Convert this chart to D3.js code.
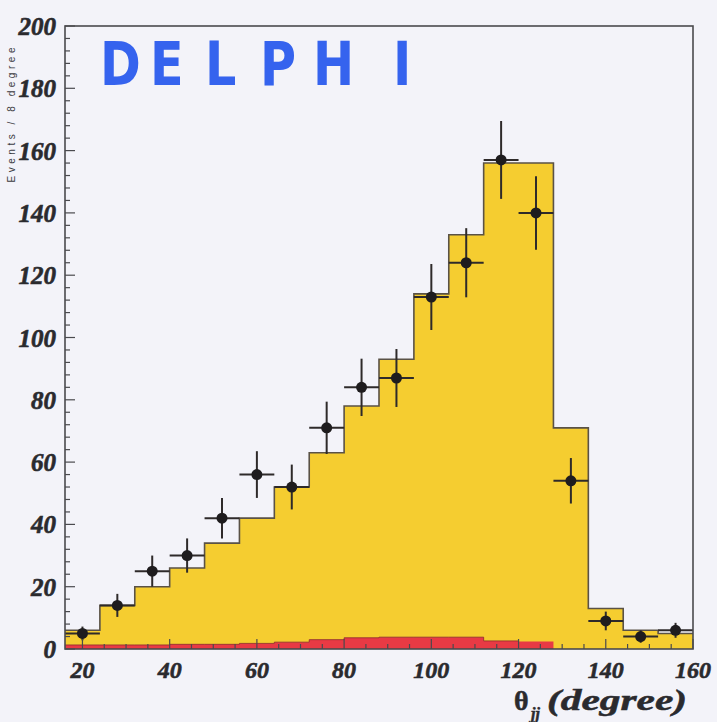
<!DOCTYPE html>
<html>
<head>
<meta charset="utf-8">
<script src="https://cdn.jsdelivr.net/npm/d3@7/dist/d3.min.js"></script>
<style>
  html, body { margin: 0; padding: 0; background: #f3f3f9; }
  svg { display: block; }
</style>
</head>
<body>
<script>
// Angle between the two jets, 8-degree bins from 16 to 160 degrees
const binEdges = [16, 24, 32, 40, 48, 56, 64, 72, 80, 88, 96, 104, 112, 120, 128, 136, 144, 152, 160];
// Simulated signal + background (yellow histogram)
const mcTotal = [6, 14, 20, 26, 34, 42, 52, 63, 78, 93, 114, 133, 156, 156, 71, 13, 6, 5];
// Background contribution (red histogram)
const mcBackground = [1.3, 1.3, 1.3, 1.5, 1.5, 1.8, 2.2, 3, 3.6, 3.8, 3.8, 3.8, 2.6, 2.4, 0, 0, 0, 0];
// Measured events with statistical errors
const dataCounts = [5, 14, 25, 30, 42, 56, 52, 71, 84, 87, 113, 124, 157, 140, 54, 9, 4, 6];
const dataErrors = [2.2, 3.7, 5, 5.5, 6.5, 7.5, 7.2, 8.4, 9.2, 9.3, 10.6, 11.1, 12.5, 11.8, 7.3, 3, 2, 2.4];
const xTicks = [20, 40, 60, 80, 100, 120, 140, 160];
const yTicks = [0, 20, 40, 60, 80, 100, 120, 140, 160, 180, 200];

const W = 717, H = 722;
const margin = { left: 65, right: 24, top: 26, bottom: 73 };
const ink = "#2a2a2e";

const svg = d3.select("body").append("svg").attr("width", W).attr("height", H);
svg.append("rect").attr("width", W).attr("height", H).attr("fill", "#f3f3f9");

const x = d3.scaleLinear().domain([16, 160]).range([margin.left, W - margin.right]);
const y = d3.scaleLinear().domain([0, 200]).range([H - margin.bottom, margin.top]);

// step-shaped points: each bin start plus the closing edge
function steps(vals) {
  const pts = vals.map((v, i) => [binEdges[i], v]);
  pts.push([binEdges[binEdges.length - 1], vals[vals.length - 1]]);
  return pts;
}

const area = d3.area().curve(d3.curveStepAfter)
  .x(d => x(d[0])).y0(y(0)).y1(d => y(d[1]));
const line = d3.line().curve(d3.curveStepAfter)
  .x(d => x(d[0])).y(d => y(d[1]));

// yellow total histogram
svg.append("path").datum(steps(mcTotal))
  .attr("d", area).attr("fill", "#f5cd30");
svg.append("path").datum(steps(mcTotal))
  .attr("d", line).attr("fill", "none").attr("stroke", "#5a5246").attr("stroke-width", 1.6);

// red background histogram
svg.append("path").datum(steps(mcBackground))
  .attr("d", area).attr("fill", "#e83a44");
svg.append("path").datum(steps(mcBackground).filter(d => d[1] > 0))
  .attr("d", line).attr("fill", "none").attr("stroke", "#8a2a30").attr("stroke-width", 0.8);

// data points with error bars
const pts = svg.append("g");
dataCounts.forEach((v, i) => {
  const lo = binEdges[i], hi = binEdges[i + 1], c = (lo + hi) / 2;
  pts.append("line")
    .attr("x1", x(c)).attr("x2", x(c))
    .attr("y1", y(v - dataErrors[i])).attr("y2", y(v + dataErrors[i]))
    .attr("stroke", "#2e2a2a").attr("stroke-width", 2);
  pts.append("line")
    .attr("x1", x(lo)).attr("x2", x(hi))
    .attr("y1", y(v)).attr("y2", y(v))
    .attr("stroke", "#2e2a2a").attr("stroke-width", 2);
  pts.append("circle")
    .attr("cx", x(c)).attr("cy", y(v)).attr("r", 5.5)
    .attr("fill", "#1e1c1e");
});

// frame
svg.append("rect")
  .attr("x", x(16)).attr("y", y(200))
  .attr("width", x(160) - x(16)).attr("height", y(0) - y(200))
  .attr("fill", "none").attr("stroke", "#4a4a4e").attr("stroke-width", 1.6);

// y axis ticks (inside) and labels
const gy = svg.append("g");
d3.range(0, 201, 4).forEach(v => {
  const major = v % 20 === 0;
  gy.append("line")
    .attr("x1", x(16)).attr("x2", x(16) + (major ? 10 : 5))
    .attr("y1", y(v)).attr("y2", y(v))
    .attr("stroke", "#4a4a4e").attr("stroke-width", 1.2);
});
gy.selectAll("text.yl").data(yTicks).enter().append("text")
  .attr("x", x(16) - 9).attr("y", d => y(d))
  .attr("dy", "0.36em").attr("text-anchor", "end")
  .attr("font-family", "Liberation Serif, serif").attr("font-weight", "bold").attr("font-style", "italic")
  .attr("font-size", 25).attr("fill", ink).attr("stroke", ink).attr("stroke-width", 0.6)
  .text(d => d);

// x axis ticks (inside) and labels
const gx = svg.append("g");
d3.range(20, 161, 5).forEach(v => {
  const major = v % 20 === 0;
  gx.append("line")
    .attr("x1", x(v)).attr("x2", x(v))
    .attr("y1", y(0)).attr("y2", y(0) - (major ? 10 : 5))
    .attr("stroke", "#4a4a4e").attr("stroke-width", 1.2);
});
gx.selectAll("text.xl").data(xTicks).enter().append("text")
  .attr("x", d => x(d)).attr("y", y(0) + 29)
  .attr("text-anchor", "middle")
  .attr("font-family", "Liberation Serif, serif").attr("font-weight", "bold").attr("font-style", "italic")
  .attr("font-size", 24).attr("fill", ink).attr("stroke", ink).attr("stroke-width", 0.6)
  .text(d => d);

// x axis title
const xt = svg.append("g")
  .attr("font-family", "Liberation Serif, serif").attr("font-weight", "bold")
  .attr("fill", ink).attr("stroke", ink).attr("stroke-width", 0.5);
xt.append("text").attr("x", 514).attr("y", 710).attr("font-size", 28).text("θ");
xt.append("text").attr("x", 531).attr("y", 719).attr("font-size", 16).attr("font-style", "italic").text("jj");
xt.append("text").attr("x", 547).attr("y", 710).attr("font-size", 29).attr("font-style", "italic")
  .attr("textLength", 140).attr("lengthAdjust", "spacingAndGlyphs").text("(degree)");

// y axis title
svg.append("text")
  .attr("transform", `translate(15, ${115}) rotate(-90)`)
  .attr("text-anchor", "middle")
  .attr("font-family", "Liberation Sans, sans-serif").attr("font-size", 10)
  .attr("textLength", 135).attr("lengthAdjust", "spacing")
  .attr("fill", "#3a3a40")
  .text("Events / 8 degree");

// experiment label, condensed heavy lettering
const sx = 0.82;
const lab = svg.append("g").attr("transform", `scale(${sx},1)`)
  .append("text")
  .attr("y", 85)
  .attr("font-family", "DejaVu Sans, sans-serif").attr("font-weight", "bold")
  .attr("font-size", 60).attr("fill", "#3563ee");
const letters = ["D", "E", "L", "P", "H", "I"];
const letterX = [100, 150, 205, 260, 313, 393];
letters.forEach((c, i) => lab.append("tspan").attr("x", letterX[i] / sx).text(c));
</script>
</body>
</html>
